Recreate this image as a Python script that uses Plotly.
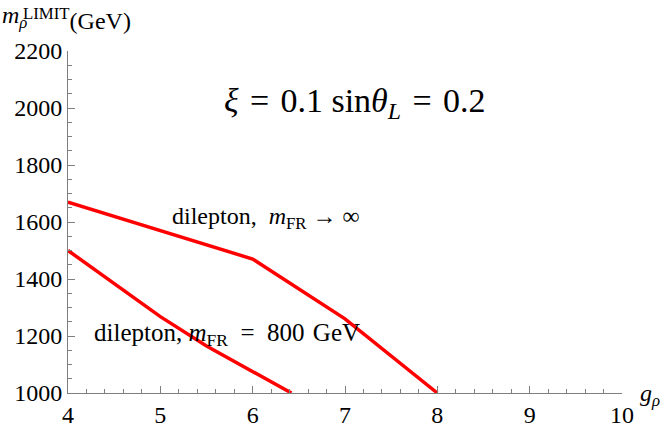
import plotly.graph_objects as go

# Limit curves
g_inf = [4, 6, 7, 8]
m_inf = [1670, 1470, 1260, 1000]

g_800 = [4, 4.5, 5, 5.5, 6, 6.42]
m_800 = [1500, 1385, 1268, 1165, 1075, 1000]

x_ticks = [4, 5, 6, 7, 8, 9, 10]
y_ticks = [1000, 1200, 1400, 1600, 1800, 2000, 2200]

serif = "Liberation Serif"
red = "#ff0000"
axis_gray = "#7f7f7f"

fig = go.Figure()
fig.add_trace(go.Scatter(x=g_inf, y=m_inf, mode="lines",
                         line=dict(color=red, width=3.5)))
fig.add_trace(go.Scatter(x=g_800, y=m_800, mode="lines",
                         line=dict(color=red, width=3.5)))

fig.update_layout(
    width=664, height=427,
    margin=dict(l=68, r=42, t=51, b=34),
    paper_bgcolor="white", plot_bgcolor="white",
    showlegend=False,
    font=dict(family=serif, size=24, color="black"),
)

# Mathematica-style frame: inward major and minor ticks, no grid
fig.update_xaxes(
    range=[4, 10], tickvals=x_ticks, ticktext=[str(v) for v in x_ticks],
    showgrid=False, zeroline=False, automargin=False,
    showline=True, linecolor=axis_gray, linewidth=1,
    ticks="inside", ticklen=7, tickcolor=axis_gray, tickwidth=1,
    minor=dict(ticks="inside", dtick=0.2, ticklen=4, tickcolor=axis_gray),
    tickfont=dict(family=serif, size=24, color="black"),
)
fig.update_yaxes(
    range=[1000, 2200], tickvals=y_ticks, ticktext=[str(v) for v in y_ticks],
    showgrid=False, zeroline=False, automargin=False,
    showline=True, linecolor=axis_gray, linewidth=1,
    ticks="inside", ticklen=7, tickcolor=axis_gray, tickwidth=1,
    minor=dict(ticks="inside", dtick=50, ticklen=4, tickcolor=axis_gray),
    tickfont=dict(family=serif, size=24, color="black"),
)

# Axis labels
fig.add_annotation(text="<i>m</i><sub><i>ρ</i></sub>", xref="paper", yref="paper",
                   x=-68 / 554, y=1 + 34 / 342, xanchor="left", yanchor="middle",
                   showarrow=False, font=dict(family=serif, size=24))
fig.add_annotation(text="<sup>LIMIT</sup>(GeV)", xref="paper", yref="paper",
                   x=-47 / 554, y=1 + 32 / 342, xanchor="left", yanchor="middle",
                   showarrow=False, font=dict(family=serif, size=24))
fig.add_annotation(text="<i>g</i><sub><i>ρ</i></sub>", xref="paper", yref="paper",
                   x=1 + 16 / 554, y=-0.005, xanchor="left", yanchor="middle",
                   showarrow=False, font=dict(family=serif, size=24))

# Text in the plot
fig.add_annotation(text="<i>ξ</i>\u2004=\u20040.1 sin<i>θ</i><sub><i>L</i></sub>\u2004=\u20040.2",
                   x=5.67, y=2017, xanchor="left", yanchor="middle",
                   showarrow=False, font=dict(family=serif, size=34))
fig.add_annotation(text="dilepton,  <i>m</i><sub>FR</sub> → ∞",
                   x=5.1, y=1615, xanchor="left", yanchor="middle",
                   showarrow=False, font=dict(family=serif, size=24))
fig.add_annotation(text="dilepton, <i>m</i><sub>FR</sub>\u2002=\u2002800\u2004GeV",
                   x=4.26, y=1205, xanchor="left", yanchor="middle",
                   showarrow=False, font=dict(family=serif, size=25))

fig.write_html("out.html", config={"displayModeBar": False},
               post_script="document.body.style.margin='0';")
